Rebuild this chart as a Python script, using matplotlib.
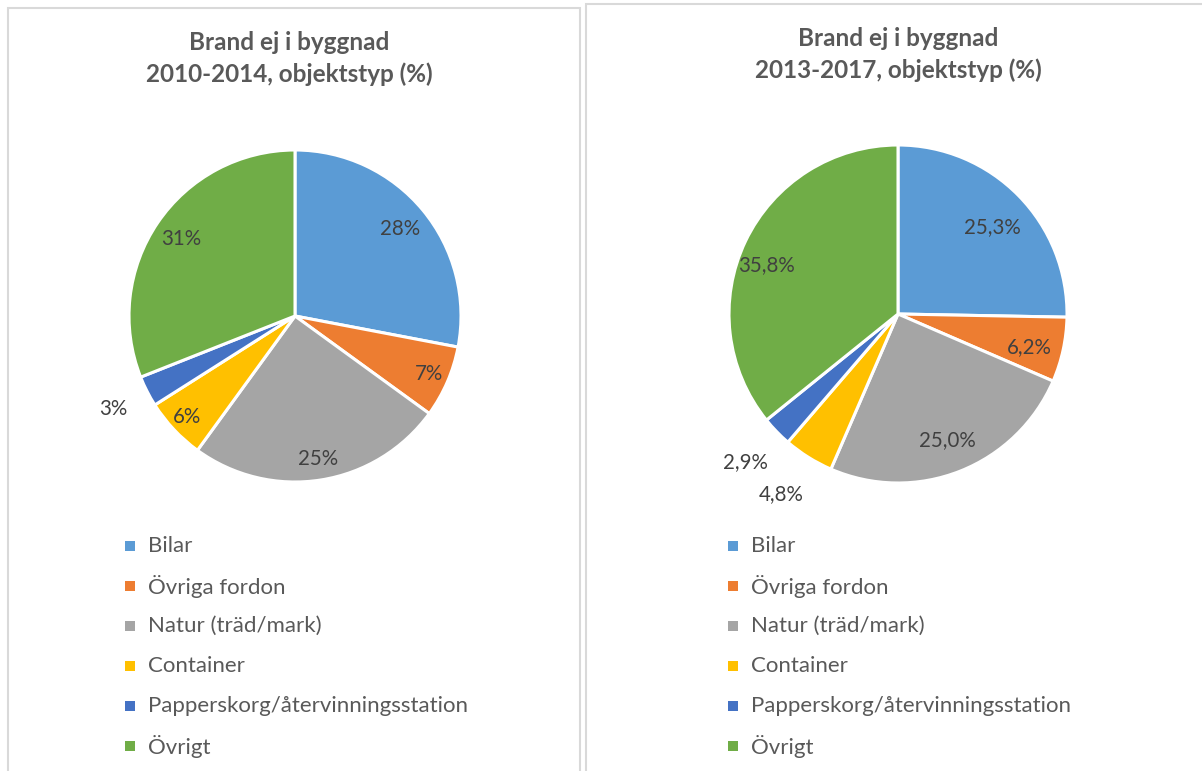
import matplotlib
matplotlib.use('Agg')
import matplotlib.pyplot as plt
import numpy as np
from matplotlib.patches import Rectangle

plt.rcParams['font.family'] = ['Lato', 'DejaVu Sans']

# data
categories = ['Bilar', 'Övriga fordon', 'Natur (träd/mark)', 'Container',
              'Papperskorg/återvinningsstation', 'Övrigt']
values_2010 = [28, 7, 25, 6, 3, 31]
values_2013 = [25.3, 6.2, 25.0, 4.8, 2.9, 35.8]
labels_2010 = ['28%', '7%', '25%', '6%', '3%', '31%']
labels_2013 = ['25,3%', '6,2%', '25,0%', '4,8%', '2,9%', '35,8%']
titles = [['Brand ej i byggnad', '2010-2014, objektstyp (%)'],
          ['Brand ej i byggnad', '2013-2017, objektstyp (%)']]

colors = ['#5B9BD5', '#ED7D31', '#A5A5A5', '#FFC000', '#4472C4', '#70AD47']
TEXT = '#595959'
LABEL = '#404040'

W, H = 1202, 771
fig = plt.figure(figsize=(W / 100, H / 100), dpi=100, facecolor='white')


def fx(px):
    return px / W


def fy(py):
    return 1 - py / H


# panel frames
for x0, x1, y0 in [(8, 580, 8), (586, 1210, 4)]:
    fig.patches.append(Rectangle((fx(x0), fy(H + 20)), fx(x1 - x0), (H + 20 - y0) / H,
                                 transform=fig.transFigure, facecolor='none',
                                 edgecolor='#D9D9D9', linewidth=1.5))

# label radius (fraction of pie radius) and angle tweak per slice
label_r = [[0.82, 0.88, 0.87, 0.89, 1.23, 0.83],
           [0.76, 0.80, 0.80, 1.27, 1.26, 0.83]]
label_da = [[0, 0, 0, 0, 0, 0],
            [-2, -2, 0, -1, 0, 5]]

panels = [
    dict(values=values_2010, labels=labels_2010, cx=295, cy=316, r=166,
         title_x=289, title_y=42, leg_x=130),
    dict(values=values_2013, labels=labels_2013, cx=898, cy=314, r=169,
         title_x=898, title_y=38, leg_x=733),
]

for k, p in enumerate(panels):
    r = p['r']
    ax = fig.add_axes([fx(p['cx'] - r), fy(p['cy'] + r), fx(2 * r), 2 * r / H])
    wedges, _ = ax.pie(p['values'], colors=colors, startangle=90, counterclock=False,
                       wedgeprops=dict(edgecolor='white', linewidth=2.2))
    ax.set_xlim(-1, 1)
    ax.set_ylim(-1, 1)
    ax.set_aspect('equal')
    for i, w in enumerate(wedges):
        ang = np.deg2rad((w.theta1 + w.theta2) / 2 + label_da[k][i])
        rr = label_r[k][i]
        ax.text(rr * np.cos(ang), rr * np.sin(ang), p['labels'][i], ha='center',
                va='center', fontsize=14.8, color=LABEL)

    for j, line in enumerate(titles[k]):
        fig.text(fx(p['title_x']), fy(p['title_y'] + 32 * j), line, ha='center',
                 va='center', fontsize=17.5, fontweight='bold', color=TEXT)

    # legend
    for i, (cat, c) in enumerate(zip(categories, colors)):
        y = 546 + 40 * i
        fig.patches.append(Rectangle((fx(p['leg_x'] - 5), fy(y + 5)), fx(10), 10 / H,
                                     transform=fig.transFigure, facecolor=c,
                                     edgecolor='none'))
        fig.text(fx(p['leg_x'] + 18), fy(y), cat, ha='left', va='center',
                 fontsize=16, color=TEXT)

fig.savefig('out.png', dpi=100, facecolor='white')
